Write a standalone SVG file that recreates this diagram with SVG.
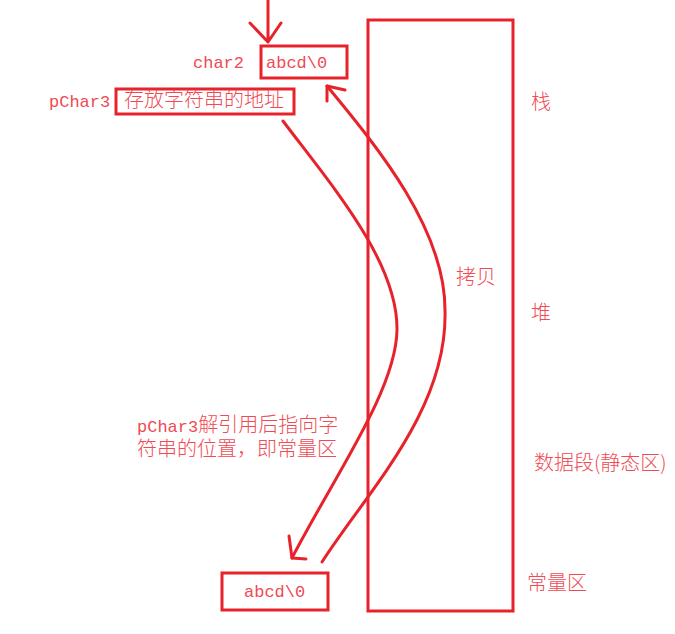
<svg xmlns="http://www.w3.org/2000/svg" width="675" height="634" viewBox="0 0 675 634">
<style>
.ln{fill:none;stroke:#e8222b;stroke-width:3;stroke-linecap:round;stroke-linejoin:round}
.bx{fill:none;stroke:#e8222b;stroke-width:3}
.t{fill:#f04a54;font-family:"Noto Sans CJK SC","Liberation Mono",monospace;font-size:20px;font-weight:300}
.m{font-family:"Liberation Mono","Noto Sans CJK SC",monospace;font-size:17px;font-weight:400}
</style>
<rect width="675" height="634" fill="#fff"/>
<g id="memory">
<rect class="bx" x="368" y="20" width="145" height="591"/>
<text class="t" x="531" y="109">栈</text>
<text class="t" x="531" y="320">堆</text>
<text class="t" x="534" y="470">数据段(静态区)</text>
<text class="t" x="527" y="590">常量区</text>
</g>
<g id="char2">
<rect class="bx" x="261" y="46" width="86" height="32"/>
<text class="t m" x="193" y="68">char2</text>
<text class="t m" x="266" y="68">abcd\0</text>
</g>
<g id="pChar3">
<rect class="bx" x="116" y="89" width="178" height="25"/>
<text class="t" x="49" y="107"><tspan class="m">pChar3</tspan><tspan x="124">存放字符串的地址</tspan></text>
</g>
<g id="const">
<rect class="bx" x="222" y="573" width="106" height="37"/>
<text class="t m" x="244" y="597">abcd\0</text>
</g>
<g id="labels">
<text class="t" x="456" y="284">拷贝</text>
<text class="t" x="137" y="432"><tspan class="m">pChar3</tspan>解引用后指向字<tspan x="137" dy="24">符串的位置，即常量区</tspan></text>
</g>
<g id="connectors">
<path class="ln" d="M268,0 L268,42 M250,23 L268,42 L281,23"/>
<path class="ln" d="M283,121 C332,186 398,262 397,330 C396,390 335,475 292,558"/>
<path class="ln" d="M289,536 L292,558 L306,559"/>
<path class="ln" d="M322,562 C367,492 448,410 445,310 C445,230 380,150 327,86"/>
<path class="ln" d="M327,101 L327,86 L345,90"/>
</g>
</svg>
